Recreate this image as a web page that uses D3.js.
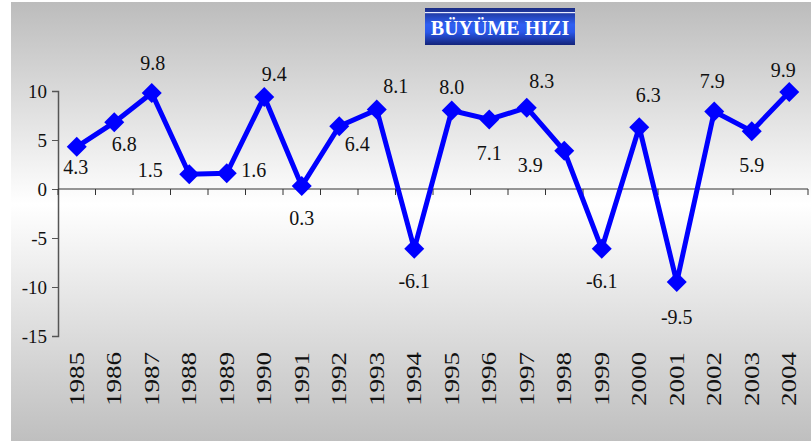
<!DOCTYPE html>
<html>
<head>
<meta charset="utf-8">
<script src="https://cdn.jsdelivr.net/npm/d3@7.9.0/dist/d3.min.js"></script>
<style>
  html, body { margin: 0; padding: 0; background: #fff; }
  svg { display: block; }
  svg text { font-family: "Liberation Serif", "Times New Roman", serif !important; fill: #111; }
</style>
</head>
<body>
<svg width="811" height="444"></svg>
<script>
const years = ["1985", "1986", "1987", "1988", "1989", "1990", "1991", "1992", "1993", "1994",
  "1995", "1996", "1997", "1998", "1999", "2000", "2001", "2002", "2003", "2004"];
const growth = [4.3, 6.8, 9.8, 1.5, 1.6, 9.4, 0.3, 6.4, 8.1, -6.1,
  8.0, 7.1, 8.3, 3.9, -6.1, 6.3, -9.5, 7.9, 5.9, 9.9];
const yTicks = [10, 5, 0, -5, -10, -15];
const title = "BÜYÜME HIZI";

// label placement relative to each point (dx, dy of text centre)
const labelOffsets = [
  [-1, 20], [10, 22], [1, -30], [-39, -4], [27, -3], [10, -23], [0, 32], [18, 18], [19, -24], [0, 32],
  [0, -24], [0, 34], [15, -27], [-34, 14], [0, 32], [9, -32], [0, 35], [-2, -31], [0, 34], [-6, -22]
];

const svg = d3.select("svg");
const defs = svg.append("defs");

const bg = defs.append("linearGradient").attr("id", "bg").attr("x1", 0).attr("y1", 0).attr("x2", 0).attr("y2", 1);
bg.append("stop").attr("offset", "0%").attr("stop-color", "#bcbcbc");
bg.append("stop").attr("offset", "46%").attr("stop-color", "#ffffff");
bg.append("stop").attr("offset", "100%").attr("stop-color", "#bfbfbf");

const tg = defs.append("linearGradient").attr("id", "tg").attr("x1", 0).attr("y1", 0).attr("x2", 0).attr("y2", 1);
tg.append("stop").attr("offset", "0%").attr("stop-color", "#1b2c84");
tg.append("stop").attr("offset", "45%").attr("stop-color", "#2e5ff2");
tg.append("stop").attr("offset", "65%").attr("stop-color", "#2a58ea");
tg.append("stop").attr("offset", "100%").attr("stop-color", "#13237a");

svg.append("rect")
  .attr("x", 11).attr("y", 2)
  .attr("width", 800).attr("height", 439)
  .attr("fill", "url(#bg)");

// title box
const tb = svg.append("g").attr("transform", "translate(425,8)");
tb.append("rect").attr("width", 150).attr("height", 37).attr("fill", "url(#tg)");
tb.append("rect").attr("y", 4).attr("width", 150).attr("height", 1.2).attr("fill", "#e8ecff");
tb.append("text")
  .attr("x", 75).attr("y", 27)
  .attr("text-anchor", "middle")
  .attr("font-size", 20).attr("font-weight", "bold")
  .style("fill", "#fff")
  .text(title);

const x = d3.scaleBand().domain(years).range([58, 808]);
const y = d3.scaleLinear().domain([-15, 10]).range([336, 91]);

// y axis
const yAxis = svg.append("g")
  .attr("transform", "translate(58,0)")
  .call(d3.axisLeft(y).tickValues(yTicks).tickSize(6).tickPadding(5).tickFormat(d3.format("d")));
yAxis.select(".domain").attr("stroke", "#555").attr("stroke-width", 1.5);
yAxis.selectAll(".tick line").attr("stroke", "#555");
yAxis.selectAll(".tick text").attr("font-size", 19).attr("fill", "#111")
  .text(d => d < 0 ? "-" + Math.abs(d) : d);

// x axis at zero
const xAxis = svg.append("g").attr("transform", `translate(0,${y(0)})`);
xAxis.append("line").attr("x1", 58).attr("x2", 808).attr("stroke", "#333").attr("stroke-width", 1.2);
xAxis.selectAll("line.tk")
  .data(years.concat(["end"]))
  .join("line")
  .attr("class", "tk")
  .attr("x1", (d, i) => i < years.length ? x(d) : x.range()[1])
  .attr("x2", (d, i) => i < years.length ? x(d) : x.range()[1])
  .attr("y1", 0).attr("y2", 6)
  .attr("stroke", "#333");

// year labels, rotated
svg.append("g").selectAll("text")
  .data(years)
  .join("text")
  .attr("transform", d => `translate(${x(d) + x.bandwidth() / 2 + 7},352) rotate(-90)`)
  .attr("text-anchor", "end")
  .attr("font-size", 20)
  .attr("textLength", 54)
  .attr("lengthAdjust", "spacingAndGlyphs")
  .text(d => d);

const cx = (d, i) => x(years[i]) + x.bandwidth() / 2;

svg.append("path")
  .datum(growth)
  .attr("fill", "none")
  .attr("stroke", "#0000ff")
  .attr("stroke-width", 5)
  .attr("stroke-linejoin", "miter")
  .attr("d", d3.line().x(cx).y(d => y(d)));

svg.append("g").selectAll("path")
  .data(growth)
  .join("path")
  .attr("d", d3.symbol(d3.symbolSquare, 200)())
  .attr("transform", (d, i) => `translate(${cx(d, i)},${y(d)}) rotate(45)`)
  .attr("fill", "#0000ff");

svg.append("g").selectAll("text")
  .data(growth)
  .join("text")
  .attr("x", (d, i) => cx(d, i) + labelOffsets[i][0])
  .attr("y", (d, i) => y(d) + labelOffsets[i][1] + 7)
  .attr("text-anchor", "middle")
  .attr("font-size", 20)
  .text(d => d3.format(".1f")(d).replace("−", "-"));
</script>
</body>
</html>
